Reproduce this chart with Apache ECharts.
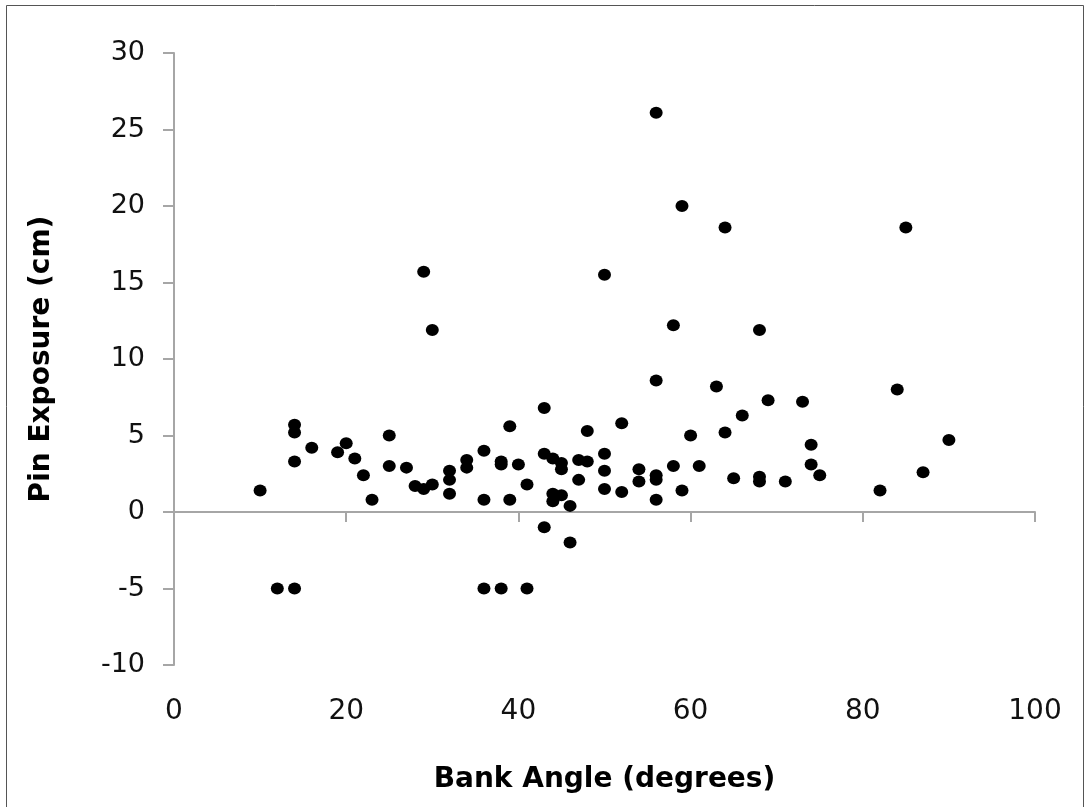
<!DOCTYPE html>
<html>
<head>
<meta charset="utf-8">
<script src="https://cdn.jsdelivr.net/npm/echarts@6/dist/echarts.min.js"></script>
<style>
  html, body { margin: 0; padding: 0; background: #fff; }
  #chart { width: 1086px; height: 807px; }
</style>
</head>
<body>
<div id="chart"></div>
<script>
// Bank angle (degrees) and pin exposure (cm) for each surveyed pin
const bankAngle = [
  10, 12, 14, 14, 14, 14, 16, 19, 20, 21, 22, 23, 25, 25, 27, 28, 29, 29, 30, 30,
  32, 32, 32, 34, 34, 36, 36, 36, 38, 38, 38, 39, 39, 40, 41, 41, 43, 43, 43, 44,
  44, 44, 45, 45, 45, 46, 46, 47, 47, 48, 48, 50, 50, 50, 50, 52, 52, 54, 54, 56,
  56, 56, 56, 56, 58, 58, 59, 59, 60, 61, 63, 64, 64, 65, 66, 68, 68, 68, 69, 71,
  73, 74, 74, 75, 82, 84, 85, 87, 90
];
const pinExposure = [
  1.4, -5, -5, 5.7, 5.2, 3.3, 4.2, 3.9, 4.5, 3.5, 2.4, 0.8, 5.0, 3.0, 2.9, 1.7, 1.5, 15.7, 1.8, 11.9,
  2.7, 2.1, 1.2, 3.4, 2.9, 4.0, 0.8, -5, 3.3, 3.1, -5, 5.6, 0.8, 3.1, 1.8, -5, 6.8, 3.8, -1, 3.5,
  1.2, 0.7, 3.2, 2.8, 1.1, 0.4, -2, 3.4, 2.1, 3.3, 5.3, 15.5, 3.8, 2.7, 1.5, 5.8, 1.3, 2.8, 2.0, 26.1,
  8.6, 2.4, 2.1, 0.8, 12.2, 3.0, 20.0, 1.4, 5.0, 3.0, 8.2, 18.6, 5.2, 2.2, 6.3, 11.9, 2.3, 2.0, 7.3, 2.0,
  7.2, 4.4, 3.1, 2.4, 1.4, 8.0, 18.6, 2.6, 4.7
];
const xTicks = [0, 20, 40, 60, 80, 100];
const yTicks = [-10, -5, 0, 5, 10, 15, 20, 25, 30];

const points = bankAngle.map((x, i) => [x, pinExposure[i]]);
const FONT = 'DejaVu Sans, Verdana, sans-serif';
const axisGrey = '#a6a6a6';

const chart = echarts.init(document.getElementById('chart'), null, { renderer: 'canvas' });
chart.setOption({
  backgroundColor: '#ffffff',
  animation: false,
  graphic: [{
    type: 'rect',
    shape: { x: 6.5, y: 5.5, width: 1077, height: 820 },
    style: { fill: 'none', stroke: '#555', lineWidth: 1 },
    silent: true
  }],
  grid: { left: 174, right: 51, top: 53, bottom: 142 },
  xAxis: [{
    // axis line drawn through y = 0
    type: 'value',
    min: xTicks[0], max: xTicks[xTicks.length - 1], interval: 20,
    axisLine: { onZero: true, lineStyle: { color: axisGrey, width: 2 } },
    axisTick: { show: true, inside: false, length: 10, lineStyle: { color: axisGrey, width: 2 } },
    axisLabel: { show: false },
    splitLine: { show: false }
  }, {
    // tick labels and title along the bottom of the plot
    type: 'value', position: 'bottom',
    min: xTicks[0], max: xTicks[xTicks.length - 1], interval: 20,
    axisLine: { show: false, onZero: false },
    axisTick: { show: false },
    splitLine: { show: false },
    axisLabel: { show: true, margin: 33, color: '#111', fontFamily: FONT, fontSize: 28 },
    name: 'Bank Angle (degrees)',
    nameLocation: 'middle', nameGap: 101,
    nameTextStyle: { color: '#000', fontFamily: FONT, fontSize: 28, fontWeight: 'bold' }
  }],
  yAxis: {
    type: 'value',
    min: yTicks[0], max: yTicks[yTicks.length - 1], interval: 5,
    axisLine: { show: true, onZero: false, lineStyle: { color: axisGrey, width: 2 } },
    axisTick: { show: true, inside: false, length: 11, lineStyle: { color: axisGrey, width: 2 } },
    axisLabel: { margin: 29, color: '#111', fontFamily: FONT, fontSize: 27 },
    splitLine: { show: false },
    name: 'Pin Exposure (cm)',
    nameLocation: 'middle', nameGap: 118, nameRotate: 90,
    nameTextStyle: { color: '#000', fontFamily: FONT, fontSize: 28, fontWeight: 'bold' }
  },
  series: [{
    type: 'scatter',
    xAxisIndex: 0,
    data: points,
    symbol: 'circle',
    symbolSize: [13, 12],
    itemStyle: { color: '#000', opacity: 1 }
  }]
});
</script>
</body>
</html>
